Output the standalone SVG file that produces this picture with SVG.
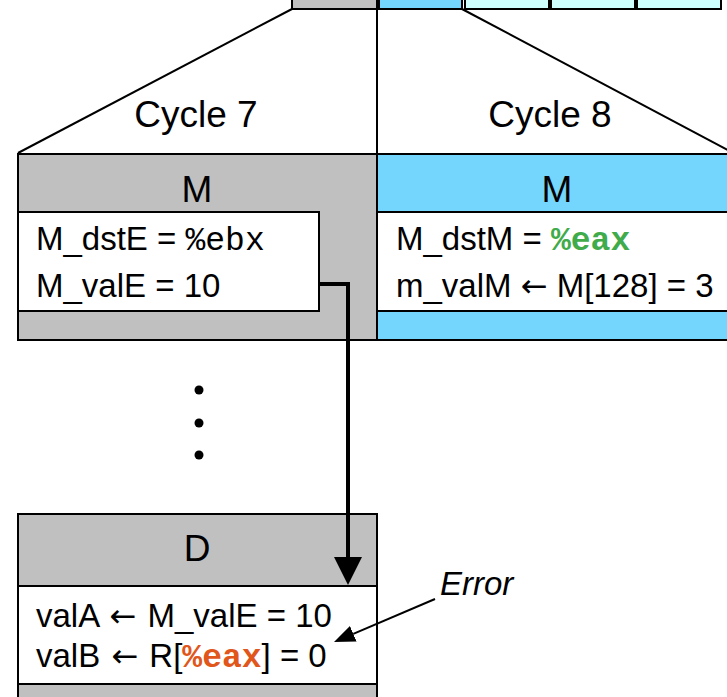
<svg xmlns="http://www.w3.org/2000/svg" width="727" height="697" viewBox="0 0 727 697">
<style>
.box{stroke:#000;stroke-width:2}
.gray{fill:#bfc0bf}
.blue{fill:#74d5fd}
.cyan{fill:#ccfffe}
.white{fill:#fff}
.t{font-family:"Liberation Sans",Arial,Helvetica,sans-serif;fill:#000}
.title{font-size:37px;text-anchor:middle}
.body{font-size:33px}
.arr{font-family:"DejaVu Sans",sans-serif;font-size:32px}
.mono{font-family:"Liberation Mono","Courier New",monospace}
.bold{font-weight:bold}
.green{fill:#3fab4b}
.orange{fill:#e0561b}
.line{stroke:#000;fill:none}
</style>
<defs>
<marker id="bigArrow" markerUnits="userSpaceOnUse" markerWidth="28" markerHeight="28" viewBox="0 0 28 28" refX="0" refY="14" orient="auto">
<path d="M0,0 L28,14 L0,28 z" fill="#000"/>
</marker>
<marker id="smallArrow" markerUnits="userSpaceOnUse" markerWidth="21" markerHeight="17" viewBox="0 0 21 17" refX="0" refY="8.5" orient="auto">
<path d="M0,0 L21,8.5 L0,17 z" fill="#000"/>
</marker>
</defs>
<rect width="727" height="697" fill="#fff"/>

<g id="timeline">
<rect class="box gray" x="292" y="-20" width="85" height="29"/>
<rect class="box blue" x="379" y="-20" width="83" height="29"/>
<rect class="box cyan" x="465" y="-20" width="84" height="29"/>
<rect class="box cyan" x="551" y="-20" width="84" height="29"/>
<rect class="box cyan" x="637" y="-20" width="84" height="29"/>
</g>

<g id="cycle-lines">
<path class="line" stroke-width="2" d="M292,9 L18,153"/>
<path class="line" stroke-width="2" d="M377,9 L377,153"/>
<path class="line" stroke-width="2" d="M462,9 L737,155"/>
</g>

<g id="cycle7-label"><text class="t title" x="196" y="127">Cycle 7</text></g>
<g id="cycle8-label"><text class="t title" x="550" y="127">Cycle 8</text></g>

<g id="m-cycle7">
<rect class="box gray" x="18" y="154" width="359" height="186"/>
<text class="t title" x="197" y="202">M</text>
<rect class="box white" x="18" y="212" width="301" height="99"/>
<text class="t body" x="36" y="250">M_dstE = <tspan class="mono">%ebx</tspan></text>
<text class="t body" x="36" y="297">M_valE = 10</text>
</g>

<g id="m-cycle8">
<rect class="box blue" x="377" y="154" width="360" height="186"/>
<text class="t title" x="557" y="202">M</text>
<rect class="box white" x="377" y="212" width="360" height="99"/>
<text class="t body" x="396" y="250">M_dstM = <tspan class="mono bold green">%eax</tspan></text>
<text class="t body" x="396" y="297">m_valM <tspan class="arr">←</tspan> M[128] = 3</text>
</g>

<g id="ellipsis">
<circle cx="199" cy="390" r="4.5" fill="#000"/>
<circle cx="199" cy="423" r="4.5" fill="#000"/>
<circle cx="199" cy="455" r="4.5" fill="#000"/>
</g>

<g id="d-stage">
<rect class="box gray" x="18" y="514" width="359" height="200"/>
<text class="t title" x="197" y="561">D</text>
<rect class="box white" x="18" y="586" width="359" height="98"/>
<text class="t body" x="36" y="627">valA <tspan class="arr" dx="2">←</tspan> <tspan dx="2">M_valE = 10</tspan></text>
<text class="t body" x="36" y="667">valB <tspan class="arr" dx="2">←</tspan> <tspan dx="2">R[</tspan><tspan class="mono bold orange">%eax</tspan>] = 0</text>
</g>

<g id="error-label"><text class="t body" x="440" y="595" font-style="italic" font-size="32">Error</text></g>

<g id="connectors">
<path class="line" stroke-width="4" d="M319,284 H348 V557" marker-end="url(#bigArrow)"/>
<path class="line" stroke-width="2" d="M435,599 L353.3,633.8" marker-end="url(#smallArrow)"/>
</g>
</svg>
